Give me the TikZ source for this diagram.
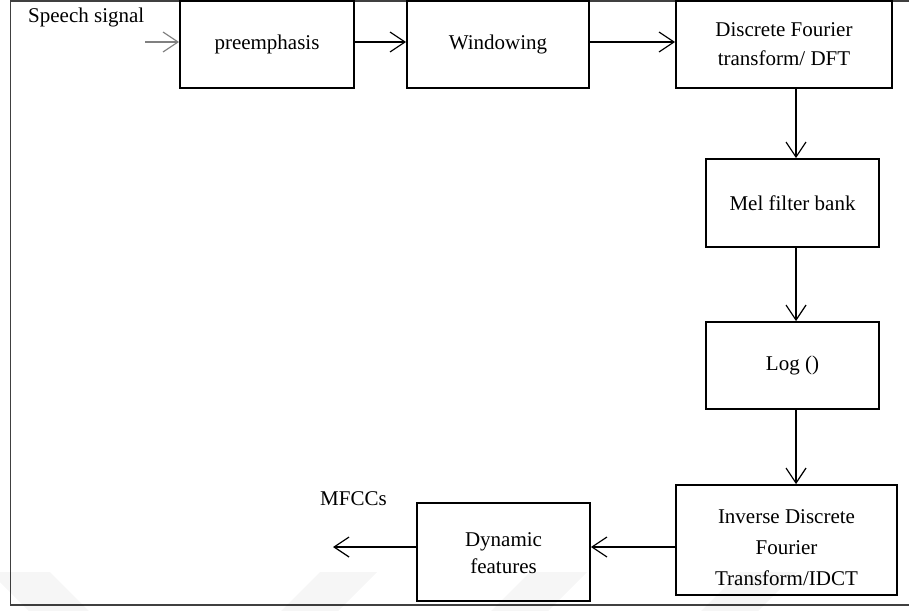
\documentclass[tikz,border=0pt]{standalone}
\usepackage{fontspec}
\setmainfont{Liberation Serif}
\usetikzlibrary{arrows.meta,shadows}

\tikzset{
  blockbox/.style={draw, line width=1.8pt, fill=white, inner sep=0pt,
    align=center, font=\fontsize{21}{29}\selectfont,
    drop shadow={shadow xshift=1.3pt, shadow yshift=-1.3pt, fill=black, opacity=1}},
  boxtext/.style={inner sep=0pt, align=center},
  flow/.style={line width=1.2pt, -{Straight Barb[length=15pt, width=20pt, line width=1.2pt]}},
  label/.style={font=\fontsize{21}{25}\selectfont, inner sep=0pt},
  frameline/.style={line width=1.6pt, black!75},
  mark band/.style={fill=black, opacity=0.035}
}

\begin{document}
\begin{tikzpicture}[x=1pt, y=-1pt]
  \useasboundingbox (0,0) rectangle (909,610);

  % outer frame (open on the right)
  \draw[frameline] (915,0.8) -- (10.5,0.8) -- (10.5,605) -- (915,605);

  % processing blocks
  \node[blockbox, minimum width=174pt, minimum height=87pt] (pre) at (267,44.5) {preemphasis};
  \node[blockbox, minimum width=182pt, minimum height=87pt] (win) at (498,44.5) {Windowing};
  \node[blockbox, minimum width=216pt, minimum height=87pt] (dft) at (784,44.5) {Discrete Fourier\\transform/ DFT};
  \node[blockbox, minimum width=173pt, minimum height=88pt] (mel) at (792.5,203) {Mel filter bank};
  \node[blockbox, minimum width=173pt, minimum height=87pt] (log) at (792.5,365.5) {Log ()};
  \node[blockbox, minimum width=221pt, minimum height=110pt] (idct) at (786.5,540) {};
  \node[boxtext, font=\fontsize{21}{31}\selectfont] (idcttext) at ([yshift=-8pt]idct.center)
    {Inverse Discrete\\Fourier\\Transform/IDCT};
  \node[blockbox, minimum width=173pt, minimum height=98pt] (dyn) at (503.5,552) {};
  \node[boxtext, font=\fontsize{21}{27}\selectfont] (dyntext) at ([yshift=-1.5pt]dyn.center)
    {Dynamic\\features};

  % free labels
  \node[label, anchor=base west] (speech) at (28,23) {Speech signal};
  \node[label, anchor=base west] (mfcc) at (320,505) {MFCCs};

  % guide coordinates for connector rows and columns
  \coordinate (toprow) at (0,42);
  \coordinate (col) at (796,0);
  \coordinate (botrow) at (0,547);
  \coordinate (sigin) at (145,42);
  \coordinate (mfccout) at (333,547);

  % connectors
  \draw[flow, gray] (sigin) -- (pre.west |- toprow);
  \draw[flow] (pre.east |- toprow) -- (win.west |- toprow);
  \draw[flow] (win.east |- toprow) -- (dft.west |- toprow);
  \draw[flow] (dft.south -| col) -- (mel.north -| col);
  \draw[flow] (mel.south -| col) -- (log.north -| col);
  \draw[flow] (log.south -| col) -- (idct.north -| col);
  \draw[flow] (idct.west |- botrow) -- (dyn.east |- botrow);
  \draw[flow] (dyn.west |- botrow) -- (mfccout);

  % faint slanted bands along the bottom edge
  \fill[mark band] (-10,572) -- (50,572) -- (90,612) -- (30,612) -- cycle;
  \fill[mark band] (320,572) -- (377,572) -- (337,612) -- (280,612) -- cycle;
  \fill[mark band] (530,572) -- (587,572) -- (547,612) -- (490,612) -- cycle;
  \fill[mark band] (740,572) -- (797,572) -- (757,612) -- (700,612) -- cycle;
\end{tikzpicture}
\end{document}
